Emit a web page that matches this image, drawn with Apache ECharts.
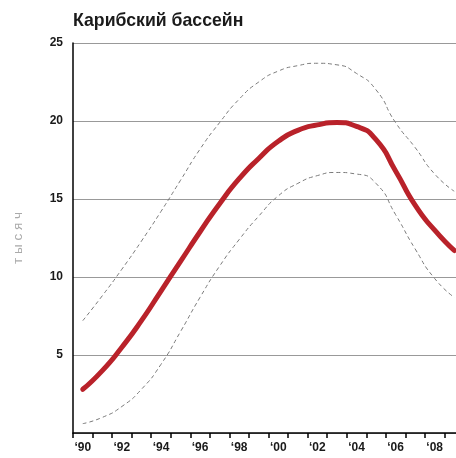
<!DOCTYPE html>
<html>
<head>
<meta charset="utf-8">
<script src="https://cdn.jsdelivr.net/npm/echarts@6/dist/echarts.min.js"></script>
<style>
  html, body { margin: 0; padding: 0; background: #fff; overflow: hidden; }
  #chart { width: 464px; height: 458px; }
</style>
</head>
<body>
<div id="chart"></div>
<script>
const years = ['1990', '1991', '1992', '1993', '1994', '1995', '1996', '1997', '1998', '1999',
  '2000', '2001', '2002', '2003', '2004', '2005', '2006', '2007', '2008', '2009']
const central = [2.8, 4.0, 5.5, 7.2, 9.1, 11.0, 12.9, 14.7, 16.3, 17.6,
  18.7, 19.4, 19.75, 19.9, 19.65, 18.8, 16.8, 14.6, 13.0, 11.7]
const upper = [7.2, 8.8, 10.5, 12.3, 14.2, 16.2, 18.2, 19.9, 21.4, 22.5,
  23.2, 23.55, 23.7, 23.6, 23.05, 22.0, 19.9, 18.3, 16.6, 15.5]
const lower = [0.6, 1.0, 1.7, 2.8, 4.4, 6.5, 8.7, 10.7, 12.4, 13.9,
  15.2, 16.0, 16.5, 16.7, 16.6, 16.0, 14.0, 11.8, 9.9, 8.7]
const yTicks = [0, 5, 10, 15, 20, 25]

const font = '"Liberation Sans", Arial, sans-serif'
// chart is a bit wider than the window: the last year band runs past the right edge
const myChart = echarts.init(document.getElementById('chart'))

const dashed = {
  type: 'line',
  smooth: 0.6,
  symbol: 'none',
  lineStyle: { color: '#7a7a7a', width: 1, type: [4, 3] },
  z: 2
}

const option = {
  animation: false,
  title: {
    text: 'Карибский бассейн',
    left: 68,
    top: 7,
    textStyle: { fontFamily: font, fontSize: 17.7, fontWeight: 'bold', color: '#1a1a1a' }
  },
  grid: { left: 73, right: 0, top: 43, bottom: 25 },
  xAxis: {
    type: 'category',
    data: years,
    boundaryGap: true,
    axisLine: { lineStyle: { color: '#000', width: 1.5 } },
    axisTick: { show: true, interval: 0, length: 5, lineStyle: { color: '#000', width: 1.5 } },
    axisLabel: {
      interval: 1,
      margin: 9,
      fontFamily: font,
      fontSize: 12,
      fontWeight: 'bold',
      color: '#1a1a1a',
      formatter: v => '\u2018' + v.slice(2)
    }
  },
  yAxis: {
    type: 'value',
    min: yTicks[0],
    max: yTicks[yTicks.length - 1],
    interval: 5,
    name: 'т ы с я ч',
    nameLocation: 'middle',
    nameGap: 48,
    nameTextStyle: { fontFamily: font, fontSize: 13.5, color: '#aaaaaa' },
    axisLine: { show: true, lineStyle: { color: '#000', width: 1.5 } },
    axisTick: { show: false },
    axisLabel: {
      margin: 10,
      fontFamily: font,
      fontSize: 12,
      fontWeight: 'bold',
      color: '#1a1a1a',
      formatter: v => (v === 0 ? '' : String(v))
    },
    splitLine: { show: true, lineStyle: { color: '#999', width: 1 } }
  },
  series: [
    Object.assign({ name: 'upper', data: upper }, dashed),
    Object.assign({ name: 'lower', data: lower }, dashed),
    {
      name: 'central',
      type: 'line',
      smooth: 0.6,
      symbol: 'none',
      data: central,
      lineStyle: { color: '#b9222a', width: 5, cap: 'round', join: 'round' },
      z: 3
    }
  ]
}

myChart.setOption(option)
</script>
</body>
</html>
